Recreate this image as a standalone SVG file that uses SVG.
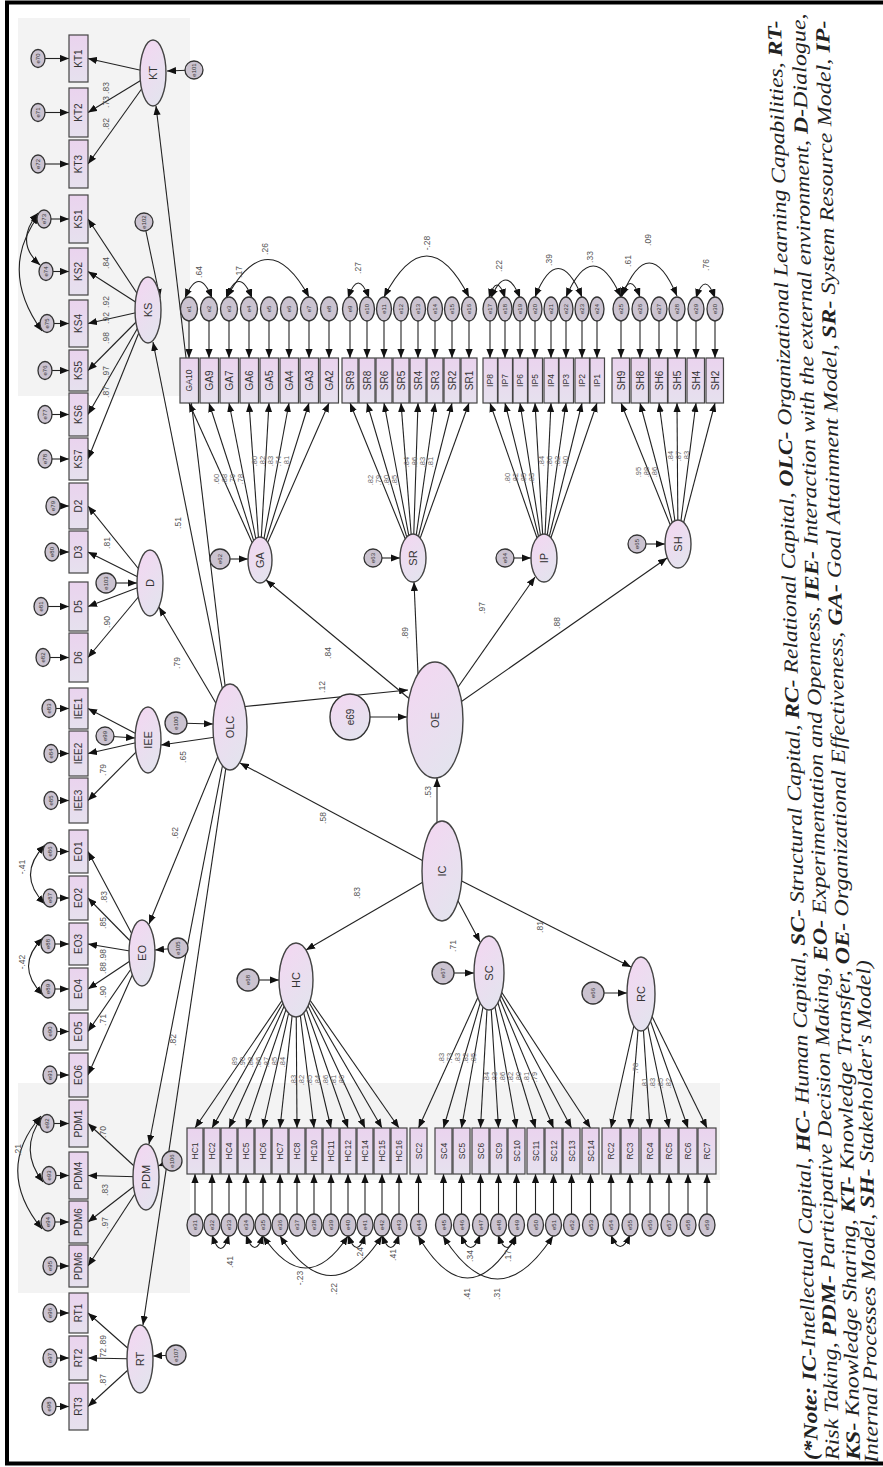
<svg xmlns="http://www.w3.org/2000/svg" width="883" height="1467" viewBox="0 0 883 1467">
<defs>
<linearGradient id="gl" x1="0" y1="0" x2="0.6" y2="1"><stop offset="0" stop-color="#f4d6f2"/><stop offset="1" stop-color="#e4e3ee"/></linearGradient>
<linearGradient id="gb" x1="0" y1="0" x2="0" y2="1"><stop offset="0" stop-color="#ead3ee"/><stop offset="1" stop-color="#e6e1ee"/></linearGradient>
<marker id="ah" viewBox="0 0 10 8" refX="10" refY="4" markerWidth="9" markerHeight="7.2" markerUnits="userSpaceOnUse" orient="auto-start-reverse"><path d="M0,0 L10,4 L0,8 Z" fill="#111"/></marker>
<style>
.c{stroke:#222;stroke-width:1.1;fill:none}
.a{marker-end:url(#ah)}
.d{marker-start:url(#ah);marker-end:url(#ah)}
.bx{fill:url(#gb);stroke:#444;stroke-width:1.2}
.lv{fill:url(#gl);stroke:#444;stroke-width:1.4}
.er{fill:#cbc3d0;stroke:#333;stroke-width:1.3}
text{font-family:'Liberation Sans',Arial,sans-serif}
.t{font-size:10px;fill:#333;text-anchor:middle;dominant-baseline:central}
.s{font-size:8.5px}
.lt{font-size:11px;fill:#333;text-anchor:middle;dominant-baseline:central}
.et{font-size:6px;fill:#333;text-anchor:middle;dominant-baseline:central}
.n{font-size:8.5px;fill:#555;text-anchor:middle;dominant-baseline:central}
.m{font-size:7.5px;fill:#666;text-anchor:middle;dominant-baseline:central}
.note text{font-family:'Liberation Serif','Times New Roman',serif;font-style:italic;font-size:20px;fill:#222}
.b{font-weight:bold}
</style>
</defs>
<rect width="883" height="1467" fill="#fff"/>
<g id="shading" fill="#f3f3f3">
<rect x="18" y="18" width="172" height="378"/>
<rect x="18" y="1083" width="702" height="97"/>
<rect x="18" y="1083" width="172" height="210"/>
</g>
<rect id="frame" x="7" y="2.5" width="900" height="1461" fill="none" stroke="#000" stroke-width="4"/>

<g id="connectors">
<g class="c a">
<line x1="153" y1="73" x2="88" y2="58.5"/><line x1="153" y1="73" x2="88" y2="112.5"/><line x1="153" y1="73" x2="88" y2="164"/>
<line x1="148" y1="310" x2="88" y2="219"/><line x1="148" y1="310" x2="88" y2="271.5"/><line x1="148" y1="310" x2="88" y2="323.5"/><line x1="148" y1="310" x2="88" y2="370.5"/><line x1="148" y1="310" x2="88" y2="414.5"/><line x1="148" y1="310" x2="88" y2="459"/>
<line x1="150" y1="583" x2="88" y2="506"/><line x1="150" y1="583" x2="88" y2="552"/><line x1="150" y1="583" x2="88" y2="606.5"/><line x1="150" y1="583" x2="88" y2="657.5"/>
<line x1="148" y1="740" x2="88" y2="708.5"/><line x1="148" y1="740" x2="88" y2="753.5"/><line x1="148" y1="740" x2="88" y2="800.5"/>
<line x1="142" y1="953" x2="88" y2="851.5"/><line x1="142" y1="953" x2="88" y2="898"/><line x1="142" y1="953" x2="88" y2="944"/><line x1="142" y1="953" x2="88" y2="989"/><line x1="142" y1="953" x2="88" y2="1031.5"/><line x1="142" y1="953" x2="88" y2="1075"/>
<line x1="146" y1="1177" x2="88" y2="1123.5"/><line x1="146" y1="1177" x2="88" y2="1175.5"/><line x1="146" y1="1177" x2="88" y2="1222"/><line x1="146" y1="1177" x2="88" y2="1266"/>
<line x1="140" y1="1359" x2="88" y2="1313"/><line x1="140" y1="1359" x2="88" y2="1358"/><line x1="140" y1="1359" x2="88" y2="1406.5"/>
<line x1="38" y1="58.5" x2="69" y2="58.5"/><line x1="38" y1="112.5" x2="69" y2="112.5"/><line x1="38" y1="164" x2="69" y2="164"/>
<line x1="44" y1="219" x2="69" y2="219"/><line x1="46" y1="271.5" x2="69" y2="271.5"/><line x1="47" y1="323.5" x2="69" y2="323.5"/><line x1="45" y1="370.5" x2="69" y2="370.5"/><line x1="45" y1="414.5" x2="69" y2="414.5"/><line x1="45" y1="459" x2="69" y2="459"/>
<line x1="53" y1="506" x2="69" y2="506"/><line x1="52" y1="552" x2="69" y2="552"/><line x1="41" y1="606.5" x2="69" y2="606.5"/><line x1="43" y1="657.5" x2="69" y2="657.5"/>
<line x1="49" y1="708.5" x2="69" y2="708.5"/><line x1="51" y1="753.5" x2="69" y2="753.5"/><line x1="51" y1="800.5" x2="69" y2="800.5"/>
<line x1="50" y1="851.5" x2="69" y2="851.5"/><line x1="50" y1="898" x2="69" y2="898"/><line x1="48" y1="944" x2="69" y2="944"/><line x1="48" y1="989" x2="69" y2="989"/><line x1="50" y1="1031.5" x2="69" y2="1031.5"/><line x1="50" y1="1075" x2="69" y2="1075"/>
<line x1="47" y1="1123.5" x2="69" y2="1123.5"/><line x1="49" y1="1175.5" x2="69" y2="1175.5"/><line x1="48" y1="1222" x2="69" y2="1222"/><line x1="50" y1="1266" x2="69" y2="1266"/>
<line x1="50" y1="1313" x2="69" y2="1313"/><line x1="50" y1="1358" x2="69" y2="1358"/><line x1="49" y1="1406.5" x2="69" y2="1406.5"/>
<line x1="194" y1="70" x2="167" y2="71"/><line x1="144" y1="222" x2="160" y2="298"/><line x1="106" y1="583" x2="137" y2="583"/><line x1="105" y1="736" x2="135" y2="738"/><line x1="176" y1="723" x2="213" y2="724"/><line x1="178" y1="948" x2="155" y2="950"/><line x1="172" y1="1161" x2="158" y2="1166"/><line x1="176" y1="1355" x2="153" y2="1356"/>
<line x1="220" y1="559" x2="248" y2="559"/><line x1="373" y1="558" x2="400" y2="558"/><line x1="505" y1="558" x2="531" y2="558"/><line x1="637" y1="544" x2="665" y2="544"/><line x1="350" y1="717" x2="407" y2="717"/><line x1="248" y1="980" x2="279" y2="980"/><line x1="443" y1="973" x2="474" y2="973"/><line x1="593" y1="993" x2="627" y2="993"/>
<line x1="437" y1="871" x2="437" y2="778"/><line x1="442" y1="871" x2="240" y2="763"/><line x1="442" y1="871" x2="306" y2="950"/><line x1="442" y1="871" x2="480" y2="942"/><line x1="442" y1="871" x2="631" y2="967"/>
<line x1="230" y1="727" x2="156" y2="106"/><line x1="230" y1="727" x2="153" y2="342"/><line x1="230" y1="727" x2="159" y2="607"/><line x1="230" y1="735" x2="161" y2="745"/><line x1="230" y1="727" x2="149" y2="924"/><line x1="230" y1="727" x2="149" y2="1144"/><line x1="232" y1="727" x2="143" y2="1325"/><line x1="240" y1="707" x2="408" y2="690"/>
<line x1="435" y1="720" x2="266" y2="580"/><line x1="420" y1="720" x2="414" y2="582"/><line x1="435" y1="720" x2="535" y2="577"/><line x1="435" y1="720" x2="667" y2="558"/>
<line x1="260" y1="560" x2="189" y2="403"/><line x1="260" y1="560" x2="209" y2="403"/><line x1="260" y1="560" x2="229" y2="403"/><line x1="260" y1="560" x2="249" y2="403"/><line x1="260" y1="560" x2="269" y2="403"/><line x1="260" y1="560" x2="289" y2="403"/><line x1="260" y1="560" x2="309" y2="403"/><line x1="260" y1="560" x2="329" y2="403"/>
<line x1="413" y1="558" x2="350" y2="403"/><line x1="413" y1="558" x2="367" y2="403"/><line x1="413" y1="558" x2="384" y2="403"/><line x1="413" y1="558" x2="401" y2="403"/><line x1="413" y1="558" x2="418" y2="403"/><line x1="413" y1="558" x2="435" y2="403"/><line x1="413" y1="558" x2="452" y2="403"/><line x1="413" y1="558" x2="469" y2="403"/>
<line x1="544" y1="558" x2="490" y2="403"/><line x1="544" y1="558" x2="505" y2="403"/><line x1="544" y1="558" x2="520" y2="403"/><line x1="544" y1="558" x2="535" y2="403"/><line x1="544" y1="558" x2="551" y2="403"/><line x1="544" y1="558" x2="566" y2="403"/><line x1="544" y1="558" x2="582" y2="403"/><line x1="544" y1="558" x2="597" y2="403"/>
<line x1="678" y1="544" x2="621" y2="403"/><line x1="678" y1="544" x2="640" y2="403"/><line x1="678" y1="544" x2="659" y2="403"/><line x1="678" y1="544" x2="677" y2="403"/><line x1="678" y1="544" x2="696" y2="403"/><line x1="678" y1="544" x2="715" y2="403"/>
<line x1="189" y1="309" x2="189" y2="358"/><line x1="209" y1="309" x2="209" y2="358"/><line x1="229" y1="309" x2="229" y2="358"/><line x1="249" y1="309" x2="249" y2="358"/><line x1="269" y1="309" x2="269" y2="358"/><line x1="289" y1="309" x2="289" y2="358"/><line x1="309" y1="309" x2="309" y2="358"/><line x1="329" y1="309" x2="329" y2="358"/>
<line x1="350" y1="309" x2="350" y2="358"/><line x1="367" y1="309" x2="367" y2="358"/><line x1="384" y1="309" x2="384" y2="358"/><line x1="401" y1="309" x2="401" y2="358"/><line x1="418" y1="309" x2="418" y2="358"/><line x1="435" y1="309" x2="435" y2="358"/><line x1="452" y1="309" x2="452" y2="358"/><line x1="469" y1="309" x2="469" y2="358"/>
<line x1="490" y1="309" x2="490" y2="358"/><line x1="505" y1="309" x2="505" y2="358"/><line x1="520" y1="309" x2="520" y2="358"/><line x1="535" y1="309" x2="535" y2="358"/><line x1="551" y1="309" x2="551" y2="358"/><line x1="566" y1="309" x2="566" y2="358"/><line x1="582" y1="309" x2="582" y2="358"/><line x1="597" y1="309" x2="597" y2="358"/>
<line x1="621" y1="309" x2="621" y2="358"/><line x1="640" y1="309" x2="640" y2="358"/><line x1="659" y1="309" x2="659" y2="358"/><line x1="677" y1="309" x2="677" y2="358"/><line x1="696" y1="309" x2="696" y2="358"/><line x1="715" y1="309" x2="715" y2="358"/>
<line x1="296" y1="980" x2="195" y2="1128"/><line x1="296" y1="980" x2="212" y2="1128"/><line x1="296" y1="980" x2="229" y2="1128"/><line x1="296" y1="980" x2="246" y2="1128"/><line x1="296" y1="980" x2="263" y2="1128"/><line x1="296" y1="980" x2="280" y2="1128"/><line x1="296" y1="980" x2="297" y2="1128"/><line x1="296" y1="980" x2="314" y2="1128"/><line x1="296" y1="980" x2="331" y2="1128"/><line x1="296" y1="980" x2="348" y2="1128"/><line x1="296" y1="980" x2="365" y2="1128"/><line x1="296" y1="980" x2="382" y2="1128"/><line x1="296" y1="980" x2="399" y2="1128"/>
<line x1="489" y1="973" x2="418.5" y2="1128"/><line x1="489" y1="973" x2="443.5" y2="1128"/><line x1="489" y1="973" x2="461.5" y2="1128"/><line x1="489" y1="973" x2="480.5" y2="1128"/><line x1="489" y1="973" x2="498.5" y2="1128"/><line x1="489" y1="973" x2="516.5" y2="1128"/><line x1="489" y1="973" x2="535.5" y2="1128"/><line x1="489" y1="973" x2="553.5" y2="1128"/><line x1="489" y1="973" x2="571.5" y2="1128"/><line x1="489" y1="973" x2="590.5" y2="1128"/>
<line x1="641" y1="994" x2="611" y2="1128"/><line x1="641" y1="994" x2="630" y2="1128"/><line x1="641" y1="994" x2="650" y2="1128"/><line x1="641" y1="994" x2="669" y2="1128"/><line x1="641" y1="994" x2="688" y2="1128"/><line x1="641" y1="994" x2="707" y2="1128"/>
<line x1="195" y1="1225" x2="195" y2="1174"/><line x1="212" y1="1225" x2="212" y2="1174"/><line x1="229" y1="1225" x2="229" y2="1174"/><line x1="246" y1="1225" x2="246" y2="1174"/><line x1="263" y1="1225" x2="263" y2="1174"/><line x1="280" y1="1225" x2="280" y2="1174"/><line x1="297" y1="1225" x2="297" y2="1174"/><line x1="314" y1="1225" x2="314" y2="1174"/><line x1="331" y1="1225" x2="331" y2="1174"/><line x1="348" y1="1225" x2="348" y2="1174"/><line x1="365" y1="1225" x2="365" y2="1174"/><line x1="382" y1="1225" x2="382" y2="1174"/><line x1="399" y1="1225" x2="399" y2="1174"/>
<line x1="418.5" y1="1225" x2="418.5" y2="1174"/><line x1="443.5" y1="1225" x2="443.5" y2="1174"/><line x1="461.5" y1="1225" x2="461.5" y2="1174"/><line x1="480.5" y1="1225" x2="480.5" y2="1174"/><line x1="498.5" y1="1225" x2="498.5" y2="1174"/><line x1="516.5" y1="1225" x2="516.5" y2="1174"/><line x1="535.5" y1="1225" x2="535.5" y2="1174"/><line x1="553.5" y1="1225" x2="553.5" y2="1174"/><line x1="571.5" y1="1225" x2="571.5" y2="1174"/><line x1="590.5" y1="1225" x2="590.5" y2="1174"/>
<line x1="611" y1="1225" x2="611" y2="1174"/><line x1="630" y1="1225" x2="630" y2="1174"/><line x1="650" y1="1225" x2="650" y2="1174"/><line x1="669" y1="1225" x2="669" y2="1174"/><line x1="688" y1="1225" x2="688" y2="1174"/><line x1="707" y1="1225" x2="707" y2="1174"/>
</g>
<g class="c d">
<path d="M38,213 Q14,242 40,265"/><path d="M39,215 Q-2,270 42,331"/>
<path d="M45,845 Q16,875 45,904"/><path d="M43,938 Q14,966 43,995"/>
<path d="M42,1117 Q18,1150 43,1182"/><path d="M41,1116 Q-6,1170 42,1229"/>
<path d="M185,298 Q199,265 212,298"/><path d="M226,298 Q239,265 252,298"/><path d="M227,297 Q268,222 309,297"/>
<path d="M348,298 Q358,268 369,298"/><path d="M384,297 Q427,215 469,297"/>
<path d="M489,298 Q497,272 505,298"/><path d="M491,298 Q506,262 520,298"/>
<path d="M535,297 Q558,240 582,297"/><path d="M566,297 Q593,235 621,297"/>
<path d="M621,297 Q630,270 640,297"/><path d="M622,296 Q649,230 677,296"/><path d="M696,298 Q705,270 715,298"/>
<path d="M212,1235 Q221,1262 229,1235"/><path d="M246,1235 Q255,1260 263,1235"/><path d="M263,1236 Q306,1300 348,1236"/><path d="M280,1236 Q331,1315 382,1236"/><path d="M348,1235 Q357,1260 365,1235"/><path d="M382,1235 Q391,1260 399,1235"/>
<path d="M418,1236 Q468,1320 516,1236"/><path d="M443,1236 Q497,1322 553,1236"/><path d="M461,1235 Q471,1260 480,1235"/><path d="M498,1235 Q507,1260 516,1235"/>
<path d="M611,1235 Q620,1258 630,1235"/>
</g>
</g>

<g id="edge-labels">
<text class="n" transform="translate(428,792) rotate(-90)">.53</text>
<text class="n" transform="translate(323,818) rotate(-90)">.58</text>
<text class="n" transform="translate(357,893) rotate(-90)">.83</text>
<text class="n" transform="translate(453,946) rotate(-90)">.71</text>
<text class="n" transform="translate(540,927) rotate(-90)">.81</text>
<text class="n" transform="translate(178,523) rotate(-90)">.51</text>
<text class="n" transform="translate(177,663) rotate(-90)">.79</text>
<text class="n" transform="translate(183,757) rotate(-90)">.65</text>
<text class="n" transform="translate(175,833) rotate(-90)">.62</text>
<text class="n" transform="translate(173,1040) rotate(-90)">.82</text>
<text class="n" transform="translate(322,687) rotate(-90)">.12</text>
<text class="n" transform="translate(328,653) rotate(-90)">.84</text>
<text class="n" transform="translate(405,633) rotate(-90)">.89</text>
<text class="n" transform="translate(482,608) rotate(-90)">.97</text>
<text class="n" transform="translate(557,623) rotate(-90)">.88</text>
<text class="n" transform="translate(199,272) rotate(-90)">.64</text>
<text class="n" transform="translate(239,272) rotate(-90)">.17</text>
<text class="n" transform="translate(265,249) rotate(-90)">.26</text>
<text class="n" transform="translate(358,268) rotate(-90)">.27</text>
<text class="n" transform="translate(427,243) rotate(-90)">-.28</text>
<text class="n" transform="translate(499,266) rotate(-90)">.22</text>
<text class="n" transform="translate(549,260) rotate(-90)">.39</text>
<text class="n" transform="translate(590,257) rotate(-90)">.33</text>
<text class="n" transform="translate(628,261) rotate(-90)">.61</text>
<text class="n" transform="translate(648,240) rotate(-90)">.09</text>
<text class="n" transform="translate(706,265) rotate(-90)">.76</text>
<text class="n" transform="translate(22,867) rotate(-90)">-.41</text>
<text class="n" transform="translate(22,962) rotate(-90)">-.42</text>
<text class="n" transform="translate(18,1150) rotate(-90)">.21</text>
<text class="n" transform="translate(300,1278) rotate(-90)">-.23</text>
<text class="n" transform="translate(334,1289) rotate(-90)">.22</text>
<text class="n" transform="translate(230,1262) rotate(-90)">.41</text>
<text class="n" transform="translate(360,1253) rotate(-90)">.24</text>
<text class="n" transform="translate(393,1255) rotate(-90)">.41</text>
<text class="n" transform="translate(467,1294) rotate(-90)">.41</text>
<text class="n" transform="translate(497,1294) rotate(-90)">.31</text>
<text class="n" transform="translate(470,1256) rotate(-90)">.34</text>
<text class="n" transform="translate(508,1256) rotate(-90)">.17</text>
<text class="n" transform="translate(106,88) rotate(-90)">.83</text>
<text class="n" transform="translate(106,102) rotate(-90)">.73</text>
<text class="n" transform="translate(106,124) rotate(-90)">.82</text>
<text class="n" transform="translate(106,263) rotate(-90)">.84</text>
<text class="n" transform="translate(106,302) rotate(-90)">.92</text>
<text class="n" transform="translate(106,318) rotate(-90)">.92</text>
<text class="n" transform="translate(106,338) rotate(-90)">.98</text>
<text class="n" transform="translate(106,372) rotate(-90)">.97</text>
<text class="n" transform="translate(106,392) rotate(-90)">.87</text>
<text class="n" transform="translate(107,543) rotate(-90)">.81</text>
<text class="n" transform="translate(107,622) rotate(-90)">.90</text>
<text class="n" transform="translate(103,770) rotate(-90)">.79</text>
<text class="n" transform="translate(104,897) rotate(-90)">.83</text>
<text class="n" transform="translate(103,923) rotate(-90)">.85</text>
<text class="n" transform="translate(103,955) rotate(-90)">.98</text>
<text class="n" transform="translate(103,968) rotate(-90)">.88</text>
<text class="n" transform="translate(103,992) rotate(-90)">.90</text>
<text class="n" transform="translate(103,1020) rotate(-90)">.71</text>
<text class="n" transform="translate(103,1132) rotate(-90)">.70</text>
<text class="n" transform="translate(105,1190) rotate(-90)">.83</text>
<text class="n" transform="translate(105,1223) rotate(-90)">.97</text>
<text class="n" transform="translate(103,1341) rotate(-90)">.89</text>
<text class="n" transform="translate(103,1354) rotate(-90)">.72</text>
<text class="n" transform="translate(103,1380) rotate(-90)">.87</text>
<g class="m">
<text transform="translate(216,479) rotate(-90)">.60</text><text transform="translate(224,479) rotate(-90)">.88</text><text transform="translate(232,479) rotate(-90)">.79</text><text transform="translate(240,479) rotate(-90)">.78</text>
<text transform="translate(254,461) rotate(-90)">.80</text><text transform="translate(262,461) rotate(-90)">.82</text><text transform="translate(270,461) rotate(-90)">.83</text><text transform="translate(278,461) rotate(-90)">.74</text><text transform="translate(286,461) rotate(-90)">.81</text>
<text transform="translate(370,480) rotate(-90)">.82</text><text transform="translate(378,480) rotate(-90)">.79</text><text transform="translate(386,480) rotate(-90)">.80</text><text transform="translate(394,480) rotate(-90)">.85</text>
<text transform="translate(406,462) rotate(-90)">.84</text><text transform="translate(414,462) rotate(-90)">.86</text><text transform="translate(422,462) rotate(-90)">.83</text><text transform="translate(430,462) rotate(-90)">.81</text>
<text transform="translate(507,478) rotate(-90)">.80</text><text transform="translate(515,478) rotate(-90)">.82</text><text transform="translate(523,478) rotate(-90)">.85</text><text transform="translate(531,478) rotate(-90)">.83</text>
<text transform="translate(541,461) rotate(-90)">.84</text><text transform="translate(549,461) rotate(-90)">.86</text><text transform="translate(557,461) rotate(-90)">.82</text><text transform="translate(565,461) rotate(-90)">.80</text>
<text transform="translate(638,472) rotate(-90)">.95</text><text transform="translate(646,472) rotate(-90)">.88</text><text transform="translate(654,472) rotate(-90)">.86</text>
<text transform="translate(670,456) rotate(-90)">.84</text><text transform="translate(678,456) rotate(-90)">.87</text><text transform="translate(686,456) rotate(-90)">.83</text>
<text transform="translate(234,1062) rotate(-90)">.89</text><text transform="translate(242,1062) rotate(-90)">.90</text><text transform="translate(250,1062) rotate(-90)">.88</text><text transform="translate(258,1062) rotate(-90)">.86</text><text transform="translate(266,1062) rotate(-90)">.87</text><text transform="translate(274,1062) rotate(-90)">.85</text><text transform="translate(282,1062) rotate(-90)">.84</text>
<text transform="translate(293,1080) rotate(-90)">.83</text><text transform="translate(301,1080) rotate(-90)">.82</text><text transform="translate(309,1080) rotate(-90)">.85</text><text transform="translate(317,1080) rotate(-90)">.84</text><text transform="translate(325,1080) rotate(-90)">.86</text><text transform="translate(333,1080) rotate(-90)">.81</text><text transform="translate(341,1080) rotate(-90)">.80</text>
<text transform="translate(441,1058) rotate(-90)">.83</text><text transform="translate(449,1058) rotate(-90)">.73</text><text transform="translate(457,1058) rotate(-90)">.83</text><text transform="translate(465,1058) rotate(-90)">.82</text><text transform="translate(473,1058) rotate(-90)">.85</text>
<text transform="translate(486,1077) rotate(-90)">.84</text><text transform="translate(494,1077) rotate(-90)">.83</text><text transform="translate(502,1077) rotate(-90)">.86</text><text transform="translate(510,1077) rotate(-90)">.82</text><text transform="translate(518,1077) rotate(-90)">.80</text><text transform="translate(526,1077) rotate(-90)">.81</text><text transform="translate(534,1077) rotate(-90)">.79</text>
<text transform="translate(635,1068) rotate(-90)">.78</text>
<text transform="translate(644,1083) rotate(-90)">.81</text><text transform="translate(652,1083) rotate(-90)">.83</text><text transform="translate(660,1083) rotate(-90)">.85</text><text transform="translate(668,1083) rotate(-90)">.82</text>
</g>
</g>

<g id="left-indicators">
<g id="KT1"><rect class="bx" x="69" y="35" width="19" height="47"/><text class="t" transform="translate(78.5,58.5) rotate(-90)">KT1</text></g>
<g id="KT2"><rect class="bx" x="69" y="88" width="19" height="49"/><text class="t" transform="translate(78.5,112.5) rotate(-90)">KT2</text></g>
<g id="KT3"><rect class="bx" x="69" y="140" width="19" height="48"/><text class="t" transform="translate(78.5,164) rotate(-90)">KT3</text></g>
<g id="KS1"><rect class="bx" x="69" y="195" width="19" height="48"/><text class="t" transform="translate(78.5,219) rotate(-90)">KS1</text></g>
<g id="KS2"><rect class="bx" x="69" y="248" width="19" height="47"/><text class="t" transform="translate(78.5,271.5) rotate(-90)">KS2</text></g>
<g id="KS4"><rect class="bx" x="69" y="300" width="19" height="47"/><text class="t" transform="translate(78.5,323.5) rotate(-90)">KS4</text></g>
<g id="KS5"><rect class="bx" x="69" y="350" width="19" height="41"/><text class="t" transform="translate(78.5,370.5) rotate(-90)">KS5</text></g>
<g id="KS6"><rect class="bx" x="69" y="393" width="19" height="43"/><text class="t" transform="translate(78.5,414.5) rotate(-90)">KS6</text></g>
<g id="KS7"><rect class="bx" x="69" y="438" width="19" height="42"/><text class="t" transform="translate(78.5,459) rotate(-90)">KS7</text></g>
<g id="D2"><rect class="bx" x="69" y="483" width="19" height="46"/><text class="t" transform="translate(78.5,506) rotate(-90)">D2</text></g>
<g id="D3"><rect class="bx" x="69" y="531" width="19" height="42"/><text class="t" transform="translate(78.5,552) rotate(-90)">D3</text></g>
<g id="D5"><rect class="bx" x="69" y="582" width="19" height="49"/><text class="t" transform="translate(78.5,606.5) rotate(-90)">D5</text></g>
<g id="D6"><rect class="bx" x="69" y="633" width="19" height="49"/><text class="t" transform="translate(78.5,657.5) rotate(-90)">D6</text></g>
<g id="IEE1"><rect class="bx" x="69" y="688" width="19" height="41"/><text class="t" transform="translate(78.5,708.5) rotate(-90)">IEE1</text></g>
<g id="IEE2"><rect class="bx" x="69" y="731" width="19" height="45"/><text class="t" transform="translate(78.5,753.5) rotate(-90)">IEE2</text></g>
<g id="IEE3"><rect class="bx" x="69" y="778" width="19" height="45"/><text class="t" transform="translate(78.5,800.5) rotate(-90)">IEE3</text></g>
<g id="EO1"><rect class="bx" x="69" y="830" width="19" height="43"/><text class="t" transform="translate(78.5,851.5) rotate(-90)">EO1</text></g>
<g id="EO2"><rect class="bx" x="69" y="876" width="19" height="44"/><text class="t" transform="translate(78.5,898) rotate(-90)">EO2</text></g>
<g id="EO3"><rect class="bx" x="69" y="923" width="19" height="42"/><text class="t" transform="translate(78.5,944) rotate(-90)">EO3</text></g>
<g id="EO4"><rect class="bx" x="69" y="968" width="19" height="42"/><text class="t" transform="translate(78.5,989) rotate(-90)">EO4</text></g>
<g id="EO5"><rect class="bx" x="69" y="1013" width="19" height="37"/><text class="t" transform="translate(78.5,1031.5) rotate(-90)">EO5</text></g>
<g id="EO6"><rect class="bx" x="69" y="1053" width="19" height="44"/><text class="t" transform="translate(78.5,1075) rotate(-90)">EO6</text></g>
<g id="PDM1"><rect class="bx" x="69" y="1100" width="19" height="47"/><text class="t" transform="translate(78.5,1123.5) rotate(-90)">PDM1</text></g>
<g id="PDM4"><rect class="bx" x="69" y="1152" width="19" height="47"/><text class="t" transform="translate(78.5,1175.5) rotate(-90)">PDM4</text></g>
<g id="PDM6a"><rect class="bx" x="69" y="1201" width="19" height="42"/><text class="t" transform="translate(78.5,1222) rotate(-90)">PDM6</text></g>
<g id="PDM6b"><rect class="bx" x="69" y="1245" width="19" height="42"/><text class="t" transform="translate(78.5,1266) rotate(-90)">PDM6</text></g>
<g id="RT1"><rect class="bx" x="69" y="1293" width="19" height="40"/><text class="t" transform="translate(78.5,1313) rotate(-90)">RT1</text></g>
<g id="RT2"><rect class="bx" x="69" y="1336" width="19" height="44"/><text class="t" transform="translate(78.5,1358) rotate(-90)">RT2</text></g>
<g id="RT3"><rect class="bx" x="69" y="1383" width="19" height="47"/><text class="t" transform="translate(78.5,1406.5) rotate(-90)">RT3</text></g>
</g>

<g id="left-errors">
<g id="e70"><ellipse class="er" cx="38" cy="58.5" rx="7" ry="9"/><text class="et" transform="translate(38,58.5) rotate(-90)">e70</text></g>
<g id="e71"><ellipse class="er" cx="38" cy="112.5" rx="7" ry="9"/><text class="et" transform="translate(38,112.5) rotate(-90)">e71</text></g>
<g id="e72"><ellipse class="er" cx="38" cy="164" rx="7" ry="9"/><text class="et" transform="translate(38,164) rotate(-90)">e72</text></g>
<g id="e73"><ellipse class="er" cx="44" cy="219" rx="7" ry="9"/><text class="et" transform="translate(44,219) rotate(-90)">e73</text></g>
<g id="e74"><ellipse class="er" cx="46" cy="271.5" rx="7" ry="9"/><text class="et" transform="translate(46,271.5) rotate(-90)">e74</text></g>
<g id="e75"><ellipse class="er" cx="47" cy="323.5" rx="7" ry="9"/><text class="et" transform="translate(47,323.5) rotate(-90)">e75</text></g>
<g id="e76"><ellipse class="er" cx="45" cy="370.5" rx="7" ry="9"/><text class="et" transform="translate(45,370.5) rotate(-90)">e76</text></g>
<g id="e77"><ellipse class="er" cx="45" cy="414.5" rx="7" ry="9"/><text class="et" transform="translate(45,414.5) rotate(-90)">e77</text></g>
<g id="e78"><ellipse class="er" cx="45" cy="459" rx="7" ry="9"/><text class="et" transform="translate(45,459) rotate(-90)">e78</text></g>
<g id="e79"><ellipse class="er" cx="53" cy="506" rx="7" ry="9"/><text class="et" transform="translate(53,506) rotate(-90)">e79</text></g>
<g id="e80"><ellipse class="er" cx="52" cy="552" rx="7" ry="9"/><text class="et" transform="translate(52,552) rotate(-90)">e80</text></g>
<g id="e81"><ellipse class="er" cx="41" cy="606.5" rx="7" ry="9"/><text class="et" transform="translate(41,606.5) rotate(-90)">e81</text></g>
<g id="e82"><ellipse class="er" cx="43" cy="657.5" rx="7" ry="9"/><text class="et" transform="translate(43,657.5) rotate(-90)">e82</text></g>
<g id="e83"><ellipse class="er" cx="49" cy="708.5" rx="7" ry="9"/><text class="et" transform="translate(49,708.5) rotate(-90)">e83</text></g>
<g id="e84"><ellipse class="er" cx="51" cy="753.5" rx="7" ry="9"/><text class="et" transform="translate(51,753.5) rotate(-90)">e84</text></g>
<g id="e85"><ellipse class="er" cx="51" cy="800.5" rx="7" ry="9"/><text class="et" transform="translate(51,800.5) rotate(-90)">e85</text></g>
<g id="e86"><ellipse class="er" cx="50" cy="851.5" rx="7" ry="9"/><text class="et" transform="translate(50,851.5) rotate(-90)">e86</text></g>
<g id="e87"><ellipse class="er" cx="50" cy="898" rx="7" ry="9"/><text class="et" transform="translate(50,898) rotate(-90)">e87</text></g>
<g id="e88"><ellipse class="er" cx="48" cy="944" rx="7" ry="9"/><text class="et" transform="translate(48,944) rotate(-90)">e88</text></g>
<g id="e89"><ellipse class="er" cx="48" cy="989" rx="7" ry="9"/><text class="et" transform="translate(48,989) rotate(-90)">e89</text></g>
<g id="e90"><ellipse class="er" cx="50" cy="1031.5" rx="7" ry="9"/><text class="et" transform="translate(50,1031.5) rotate(-90)">e90</text></g>
<g id="e91"><ellipse class="er" cx="50" cy="1075" rx="7" ry="9"/><text class="et" transform="translate(50,1075) rotate(-90)">e91</text></g>
<g id="e92"><ellipse class="er" cx="47" cy="1123.5" rx="7" ry="9"/><text class="et" transform="translate(47,1123.5) rotate(-90)">e92</text></g>
<g id="e93"><ellipse class="er" cx="49" cy="1175.5" rx="7" ry="9"/><text class="et" transform="translate(49,1175.5) rotate(-90)">e93</text></g>
<g id="e94"><ellipse class="er" cx="48" cy="1222" rx="7" ry="9"/><text class="et" transform="translate(48,1222) rotate(-90)">e94</text></g>
<g id="e95"><ellipse class="er" cx="50" cy="1266" rx="7" ry="9"/><text class="et" transform="translate(50,1266) rotate(-90)">e95</text></g>
<g id="e96"><ellipse class="er" cx="50" cy="1313" rx="7" ry="9"/><text class="et" transform="translate(50,1313) rotate(-90)">e96</text></g>
<g id="e97"><ellipse class="er" cx="50" cy="1358" rx="7" ry="9"/><text class="et" transform="translate(50,1358) rotate(-90)">e97</text></g>
<g id="e98"><ellipse class="er" cx="49" cy="1406.5" rx="7" ry="9"/><text class="et" transform="translate(49,1406.5) rotate(-90)">e98</text></g>
</g>

<g id="top-indicators">
<g id="GA10"><rect class="bx" x="180" y="358" width="18.5" height="45"/><text class="t s" transform="translate(189,380.5) rotate(-90)">GA10</text></g>
<g id="GA9"><rect class="bx" x="200" y="358" width="18.5" height="45"/><text class="t" transform="translate(209,380.5) rotate(-90)">GA9</text></g>
<g id="GA7"><rect class="bx" x="220" y="358" width="18.5" height="45"/><text class="t" transform="translate(229,380.5) rotate(-90)">GA7</text></g>
<g id="GA6"><rect class="bx" x="240" y="358" width="18.5" height="45"/><text class="t" transform="translate(249,380.5) rotate(-90)">GA6</text></g>
<g id="GA5"><rect class="bx" x="260" y="358" width="18.5" height="45"/><text class="t" transform="translate(269,380.5) rotate(-90)">GA5</text></g>
<g id="GA4"><rect class="bx" x="280" y="358" width="18.5" height="45"/><text class="t" transform="translate(289,380.5) rotate(-90)">GA4</text></g>
<g id="GA3"><rect class="bx" x="300" y="358" width="18.5" height="45"/><text class="t" transform="translate(309,380.5) rotate(-90)">GA3</text></g>
<g id="GA2"><rect class="bx" x="320" y="358" width="18.5" height="45"/><text class="t" transform="translate(329,380.5) rotate(-90)">GA2</text></g>
<g id="SR9"><rect class="bx" x="342" y="358" width="16" height="45"/><text class="t" transform="translate(350,380.5) rotate(-90)">SR9</text></g>
<g id="SR8"><rect class="bx" x="359" y="358" width="16" height="45"/><text class="t" transform="translate(367,380.5) rotate(-90)">SR8</text></g>
<g id="SR6"><rect class="bx" x="376" y="358" width="16" height="45"/><text class="t" transform="translate(384,380.5) rotate(-90)">SR6</text></g>
<g id="SR5"><rect class="bx" x="393" y="358" width="16" height="45"/><text class="t" transform="translate(401,380.5) rotate(-90)">SR5</text></g>
<g id="SR4"><rect class="bx" x="410" y="358" width="16" height="45"/><text class="t" transform="translate(418,380.5) rotate(-90)">SR4</text></g>
<g id="SR3"><rect class="bx" x="427" y="358" width="16" height="45"/><text class="t" transform="translate(435,380.5) rotate(-90)">SR3</text></g>
<g id="SR2"><rect class="bx" x="444" y="358" width="16" height="45"/><text class="t" transform="translate(452,380.5) rotate(-90)">SR2</text></g>
<g id="SR1"><rect class="bx" x="461" y="358" width="16" height="45"/><text class="t" transform="translate(469,380.5) rotate(-90)">SR1</text></g>
<g id="IP8"><rect class="bx" x="483" y="358" width="14.5" height="45"/><text class="t s" transform="translate(490,380.5) rotate(-90)">IP8</text></g>
<g id="IP7"><rect class="bx" x="498" y="358" width="14.5" height="45"/><text class="t s" transform="translate(505,380.5) rotate(-90)">IP7</text></g>
<g id="IP6"><rect class="bx" x="513" y="358" width="14.5" height="45"/><text class="t s" transform="translate(520,380.5) rotate(-90)">IP6</text></g>
<g id="IP5"><rect class="bx" x="528" y="358" width="14.5" height="45"/><text class="t s" transform="translate(535,380.5) rotate(-90)">IP5</text></g>
<g id="IP4"><rect class="bx" x="544" y="358" width="14.5" height="45"/><text class="t s" transform="translate(551,380.5) rotate(-90)">IP4</text></g>
<g id="IP3"><rect class="bx" x="559" y="358" width="14.5" height="45"/><text class="t s" transform="translate(566,380.5) rotate(-90)">IP3</text></g>
<g id="IP2"><rect class="bx" x="575" y="358" width="14.5" height="45"/><text class="t s" transform="translate(582,380.5) rotate(-90)">IP2</text></g>
<g id="IP1"><rect class="bx" x="590" y="358" width="14.5" height="45"/><text class="t s" transform="translate(597,380.5) rotate(-90)">IP1</text></g>
<g id="SH9"><rect class="bx" x="612" y="358" width="17.5" height="45"/><text class="t" transform="translate(621,380.5) rotate(-90)">SH9</text></g>
<g id="SH8"><rect class="bx" x="631" y="358" width="17.5" height="45"/><text class="t" transform="translate(640,380.5) rotate(-90)">SH8</text></g>
<g id="SH6"><rect class="bx" x="650" y="358" width="17.5" height="45"/><text class="t" transform="translate(659,380.5) rotate(-90)">SH6</text></g>
<g id="SH5"><rect class="bx" x="668" y="358" width="17.5" height="45"/><text class="t" transform="translate(677,380.5) rotate(-90)">SH5</text></g>
<g id="SH4"><rect class="bx" x="687" y="358" width="17.5" height="45"/><text class="t" transform="translate(696,380.5) rotate(-90)">SH4</text></g>
<g id="SH2"><rect class="bx" x="706" y="358" width="17.5" height="45"/><text class="t" transform="translate(715,380.5) rotate(-90)">SH2</text></g>
</g>

<g id="top-errors">
<g id="e1"><ellipse class="er" cx="189" cy="309" rx="8.5" ry="12"/><text class="et" transform="translate(189,309) rotate(-90)">e1</text></g>
<g id="e2"><ellipse class="er" cx="209" cy="309" rx="8.5" ry="12"/><text class="et" transform="translate(209,309) rotate(-90)">e2</text></g>
<g id="e3"><ellipse class="er" cx="229" cy="309" rx="8.5" ry="12"/><text class="et" transform="translate(229,309) rotate(-90)">e3</text></g>
<g id="e4"><ellipse class="er" cx="249" cy="309" rx="8.5" ry="12"/><text class="et" transform="translate(249,309) rotate(-90)">e4</text></g>
<g id="e5"><ellipse class="er" cx="269" cy="309" rx="8.5" ry="12"/><text class="et" transform="translate(269,309) rotate(-90)">e5</text></g>
<g id="e6"><ellipse class="er" cx="289" cy="309" rx="8.5" ry="12"/><text class="et" transform="translate(289,309) rotate(-90)">e6</text></g>
<g id="e7"><ellipse class="er" cx="309" cy="309" rx="8.5" ry="12"/><text class="et" transform="translate(309,309) rotate(-90)">e7</text></g>
<g id="e8"><ellipse class="er" cx="329" cy="309" rx="8.5" ry="12"/><text class="et" transform="translate(329,309) rotate(-90)">e8</text></g>
<g id="e9"><ellipse class="er" cx="350" cy="309" rx="7.5" ry="12"/><text class="et" transform="translate(350,309) rotate(-90)">e9</text></g>
<g id="e10"><ellipse class="er" cx="367" cy="309" rx="7.5" ry="12"/><text class="et" transform="translate(367,309) rotate(-90)">e10</text></g>
<g id="e11"><ellipse class="er" cx="384" cy="309" rx="7.5" ry="12"/><text class="et" transform="translate(384,309) rotate(-90)">e11</text></g>
<g id="e12"><ellipse class="er" cx="401" cy="309" rx="7.5" ry="12"/><text class="et" transform="translate(401,309) rotate(-90)">e12</text></g>
<g id="e13"><ellipse class="er" cx="418" cy="309" rx="7.5" ry="12"/><text class="et" transform="translate(418,309) rotate(-90)">e13</text></g>
<g id="e14"><ellipse class="er" cx="435" cy="309" rx="7.5" ry="12"/><text class="et" transform="translate(435,309) rotate(-90)">e14</text></g>
<g id="e15"><ellipse class="er" cx="452" cy="309" rx="7.5" ry="12"/><text class="et" transform="translate(452,309) rotate(-90)">e15</text></g>
<g id="e16"><ellipse class="er" cx="469" cy="309" rx="7.5" ry="12"/><text class="et" transform="translate(469,309) rotate(-90)">e16</text></g>
<g id="e17"><ellipse class="er" cx="490" cy="309" rx="7" ry="12"/><text class="et" transform="translate(490,309) rotate(-90)">e17</text></g>
<g id="e18"><ellipse class="er" cx="505" cy="309" rx="7" ry="12"/><text class="et" transform="translate(505,309) rotate(-90)">e18</text></g>
<g id="e19"><ellipse class="er" cx="520" cy="309" rx="7" ry="12"/><text class="et" transform="translate(520,309) rotate(-90)">e19</text></g>
<g id="e20"><ellipse class="er" cx="535" cy="309" rx="7" ry="12"/><text class="et" transform="translate(535,309) rotate(-90)">e20</text></g>
<g id="e21"><ellipse class="er" cx="551" cy="309" rx="7" ry="12"/><text class="et" transform="translate(551,309) rotate(-90)">e21</text></g>
<g id="e22"><ellipse class="er" cx="566" cy="309" rx="7" ry="12"/><text class="et" transform="translate(566,309) rotate(-90)">e22</text></g>
<g id="e23"><ellipse class="er" cx="582" cy="309" rx="7" ry="12"/><text class="et" transform="translate(582,309) rotate(-90)">e23</text></g>
<g id="e24"><ellipse class="er" cx="597" cy="309" rx="7" ry="12"/><text class="et" transform="translate(597,309) rotate(-90)">e24</text></g>
<g id="e25"><ellipse class="er" cx="621" cy="309" rx="8" ry="12"/><text class="et" transform="translate(621,309) rotate(-90)">e25</text></g>
<g id="e26"><ellipse class="er" cx="640" cy="309" rx="8" ry="12"/><text class="et" transform="translate(640,309) rotate(-90)">e26</text></g>
<g id="e27"><ellipse class="er" cx="659" cy="309" rx="8" ry="12"/><text class="et" transform="translate(659,309) rotate(-90)">e27</text></g>
<g id="e28"><ellipse class="er" cx="677" cy="309" rx="8" ry="12"/><text class="et" transform="translate(677,309) rotate(-90)">e28</text></g>
<g id="e29"><ellipse class="er" cx="696" cy="309" rx="8" ry="12"/><text class="et" transform="translate(696,309) rotate(-90)">e29</text></g>
<g id="e30"><ellipse class="er" cx="715" cy="309" rx="8" ry="12"/><text class="et" transform="translate(715,309) rotate(-90)">e30</text></g>
</g>

<g id="bottom-indicators">
<g id="HC1"><rect class="bx" x="187" y="1128" width="16" height="46"/><text class="t s" transform="translate(195,1151) rotate(-90)">HC1</text></g>
<g id="HC2"><rect class="bx" x="204" y="1128" width="16" height="46"/><text class="t s" transform="translate(212,1151) rotate(-90)">HC2</text></g>
<g id="HC4"><rect class="bx" x="221" y="1128" width="16" height="46"/><text class="t s" transform="translate(229,1151) rotate(-90)">HC4</text></g>
<g id="HC5"><rect class="bx" x="238" y="1128" width="16" height="46"/><text class="t s" transform="translate(246,1151) rotate(-90)">HC5</text></g>
<g id="HC6"><rect class="bx" x="255" y="1128" width="16" height="46"/><text class="t s" transform="translate(263,1151) rotate(-90)">HC6</text></g>
<g id="HC7"><rect class="bx" x="272" y="1128" width="16" height="46"/><text class="t s" transform="translate(280,1151) rotate(-90)">HC7</text></g>
<g id="HC8"><rect class="bx" x="289" y="1128" width="16" height="46"/><text class="t s" transform="translate(297,1151) rotate(-90)">HC8</text></g>
<g id="HC10"><rect class="bx" x="306" y="1128" width="16" height="46"/><text class="t s" transform="translate(314,1151) rotate(-90)">HC10</text></g>
<g id="HC11"><rect class="bx" x="323" y="1128" width="16" height="46"/><text class="t s" transform="translate(331,1151) rotate(-90)">HC11</text></g>
<g id="HC12"><rect class="bx" x="340" y="1128" width="16" height="46"/><text class="t s" transform="translate(348,1151) rotate(-90)">HC12</text></g>
<g id="HC14"><rect class="bx" x="357" y="1128" width="16" height="46"/><text class="t s" transform="translate(365,1151) rotate(-90)">HC14</text></g>
<g id="HC15"><rect class="bx" x="374" y="1128" width="16" height="46"/><text class="t s" transform="translate(382,1151) rotate(-90)">HC15</text></g>
<g id="HC16"><rect class="bx" x="391" y="1128" width="16" height="46"/><text class="t s" transform="translate(399,1151) rotate(-90)">HC16</text></g>
<g id="SC2"><rect class="bx" x="410" y="1128" width="17" height="46"/><text class="t s" transform="translate(418.5,1151) rotate(-90)">SC2</text></g>
<g id="SC4"><rect class="bx" x="435" y="1128" width="17" height="46"/><text class="t s" transform="translate(443.5,1151) rotate(-90)">SC4</text></g>
<g id="SC5"><rect class="bx" x="453" y="1128" width="17" height="46"/><text class="t s" transform="translate(461.5,1151) rotate(-90)">SC5</text></g>
<g id="SC6"><rect class="bx" x="472" y="1128" width="17" height="46"/><text class="t s" transform="translate(480.5,1151) rotate(-90)">SC6</text></g>
<g id="SC9"><rect class="bx" x="490" y="1128" width="17" height="46"/><text class="t s" transform="translate(498.5,1151) rotate(-90)">SC9</text></g>
<g id="SC10"><rect class="bx" x="508" y="1128" width="17" height="46"/><text class="t s" transform="translate(516.5,1151) rotate(-90)">SC10</text></g>
<g id="SC11"><rect class="bx" x="527" y="1128" width="17" height="46"/><text class="t s" transform="translate(535.5,1151) rotate(-90)">SC11</text></g>
<g id="SC12"><rect class="bx" x="545" y="1128" width="17" height="46"/><text class="t s" transform="translate(553.5,1151) rotate(-90)">SC12</text></g>
<g id="SC13"><rect class="bx" x="563" y="1128" width="17" height="46"/><text class="t s" transform="translate(571.5,1151) rotate(-90)">SC13</text></g>
<g id="SC14"><rect class="bx" x="582" y="1128" width="17" height="46"/><text class="t s" transform="translate(590.5,1151) rotate(-90)">SC14</text></g>
<g id="RC2"><rect class="bx" x="602" y="1128" width="18" height="46"/><text class="t s" transform="translate(611,1151) rotate(-90)">RC2</text></g>
<g id="RC3"><rect class="bx" x="621" y="1128" width="18" height="46"/><text class="t s" transform="translate(630,1151) rotate(-90)">RC3</text></g>
<g id="RC4"><rect class="bx" x="641" y="1128" width="18" height="46"/><text class="t s" transform="translate(650,1151) rotate(-90)">RC4</text></g>
<g id="RC5"><rect class="bx" x="660" y="1128" width="18" height="46"/><text class="t s" transform="translate(669,1151) rotate(-90)">RC5</text></g>
<g id="RC6"><rect class="bx" x="679" y="1128" width="18" height="46"/><text class="t s" transform="translate(688,1151) rotate(-90)">RC6</text></g>
<g id="RC7"><rect class="bx" x="698" y="1128" width="18" height="46"/><text class="t s" transform="translate(707,1151) rotate(-90)">RC7</text></g>
</g>

<g id="bottom-errors">
<g id="e31"><ellipse class="er" cx="195" cy="1225" rx="8" ry="11"/><text class="et" transform="translate(195,1225) rotate(-90)">e31</text></g>
<g id="e32"><ellipse class="er" cx="212" cy="1225" rx="8" ry="11"/><text class="et" transform="translate(212,1225) rotate(-90)">e32</text></g>
<g id="e33"><ellipse class="er" cx="229" cy="1225" rx="8" ry="11"/><text class="et" transform="translate(229,1225) rotate(-90)">e33</text></g>
<g id="e34"><ellipse class="er" cx="246" cy="1225" rx="8" ry="11"/><text class="et" transform="translate(246,1225) rotate(-90)">e34</text></g>
<g id="e35"><ellipse class="er" cx="263" cy="1225" rx="8" ry="11"/><text class="et" transform="translate(263,1225) rotate(-90)">e35</text></g>
<g id="e36"><ellipse class="er" cx="280" cy="1225" rx="8" ry="11"/><text class="et" transform="translate(280,1225) rotate(-90)">e36</text></g>
<g id="e37"><ellipse class="er" cx="297" cy="1225" rx="8" ry="11"/><text class="et" transform="translate(297,1225) rotate(-90)">e37</text></g>
<g id="e38"><ellipse class="er" cx="314" cy="1225" rx="8" ry="11"/><text class="et" transform="translate(314,1225) rotate(-90)">e38</text></g>
<g id="e39"><ellipse class="er" cx="331" cy="1225" rx="8" ry="11"/><text class="et" transform="translate(331,1225) rotate(-90)">e39</text></g>
<g id="e40"><ellipse class="er" cx="348" cy="1225" rx="8" ry="11"/><text class="et" transform="translate(348,1225) rotate(-90)">e40</text></g>
<g id="e41"><ellipse class="er" cx="365" cy="1225" rx="8" ry="11"/><text class="et" transform="translate(365,1225) rotate(-90)">e41</text></g>
<g id="e42"><ellipse class="er" cx="382" cy="1225" rx="8" ry="11"/><text class="et" transform="translate(382,1225) rotate(-90)">e42</text></g>
<g id="e43"><ellipse class="er" cx="399" cy="1225" rx="8" ry="11"/><text class="et" transform="translate(399,1225) rotate(-90)">e43</text></g>
<g id="e44"><ellipse class="er" cx="418.5" cy="1225" rx="8" ry="11"/><text class="et" transform="translate(418.5,1225) rotate(-90)">e44</text></g>
<g id="e45"><ellipse class="er" cx="443.5" cy="1225" rx="8" ry="11"/><text class="et" transform="translate(443.5,1225) rotate(-90)">e45</text></g>
<g id="e46"><ellipse class="er" cx="461.5" cy="1225" rx="8" ry="11"/><text class="et" transform="translate(461.5,1225) rotate(-90)">e46</text></g>
<g id="e47"><ellipse class="er" cx="480.5" cy="1225" rx="8" ry="11"/><text class="et" transform="translate(480.5,1225) rotate(-90)">e47</text></g>
<g id="e48"><ellipse class="er" cx="498.5" cy="1225" rx="8" ry="11"/><text class="et" transform="translate(498.5,1225) rotate(-90)">e48</text></g>
<g id="e49"><ellipse class="er" cx="516.5" cy="1225" rx="8" ry="11"/><text class="et" transform="translate(516.5,1225) rotate(-90)">e49</text></g>
<g id="e50"><ellipse class="er" cx="535.5" cy="1225" rx="8" ry="11"/><text class="et" transform="translate(535.5,1225) rotate(-90)">e50</text></g>
<g id="e51"><ellipse class="er" cx="553.5" cy="1225" rx="8" ry="11"/><text class="et" transform="translate(553.5,1225) rotate(-90)">e51</text></g>
<g id="e52"><ellipse class="er" cx="571.5" cy="1225" rx="8" ry="11"/><text class="et" transform="translate(571.5,1225) rotate(-90)">e52</text></g>
<g id="e53"><ellipse class="er" cx="590.5" cy="1225" rx="8" ry="11"/><text class="et" transform="translate(590.5,1225) rotate(-90)">e53</text></g>
<g id="e54"><ellipse class="er" cx="611" cy="1225" rx="8" ry="11"/><text class="et" transform="translate(611,1225) rotate(-90)">e54</text></g>
<g id="e55"><ellipse class="er" cx="630" cy="1225" rx="8" ry="11"/><text class="et" transform="translate(630,1225) rotate(-90)">e55</text></g>
<g id="e56"><ellipse class="er" cx="650" cy="1225" rx="8" ry="11"/><text class="et" transform="translate(650,1225) rotate(-90)">e56</text></g>
<g id="e57"><ellipse class="er" cx="669" cy="1225" rx="8" ry="11"/><text class="et" transform="translate(669,1225) rotate(-90)">e57</text></g>
<g id="e58"><ellipse class="er" cx="688" cy="1225" rx="8" ry="11"/><text class="et" transform="translate(688,1225) rotate(-90)">e58</text></g>
<g id="e59"><ellipse class="er" cx="707" cy="1225" rx="8" ry="11"/><text class="et" transform="translate(707,1225) rotate(-90)">e59</text></g>
</g>

<g id="residuals">
<g id="e101"><circle class="er" cx="194" cy="70" r="9"/><text class="et" transform="translate(194,70) rotate(-90)">e101</text></g>
<g id="e102"><circle class="er" cx="144" cy="222" r="9"/><text class="et" transform="translate(144,222) rotate(-90)">e102</text></g>
<g id="e103"><circle class="er" cx="106" cy="583" r="10"/><text class="et" transform="translate(106,583) rotate(-90)">e103</text></g>
<g id="e99"><circle class="er" cx="105" cy="736" r="9"/><text class="et" transform="translate(105,736) rotate(-90)">e99</text></g>
<g id="e100"><circle class="er" cx="176" cy="723" r="11"/><text class="et" transform="translate(176,723) rotate(-90)">e100</text></g>
<g id="e105"><circle class="er" cx="178" cy="948" r="10"/><text class="et" transform="translate(178,948) rotate(-90)">e105</text></g>
<g id="e106"><circle class="er" cx="172" cy="1161" r="10"/><text class="et" transform="translate(172,1161) rotate(-90)">e106</text></g>
<g id="e107"><circle class="er" cx="176" cy="1355" r="10"/><text class="et" transform="translate(176,1355) rotate(-90)">e107</text></g>
<g id="e62"><circle class="er" cx="220" cy="559" r="10"/><text class="et" transform="translate(220,559) rotate(-90)">e62</text></g>
<g id="e63"><circle class="er" cx="373" cy="558" r="9"/><text class="et" transform="translate(373,558) rotate(-90)">e63</text></g>
<g id="e64"><circle class="er" cx="505" cy="558" r="9"/><text class="et" transform="translate(505,558) rotate(-90)">e64</text></g>
<g id="e65"><circle class="er" cx="637" cy="544" r="9"/><text class="et" transform="translate(637,544) rotate(-90)">e65</text></g>
<g id="e69"><ellipse cx="350" cy="717" rx="20" ry="23" fill="url(#gl)" stroke="#333" stroke-width="1.4"/><text class="t" transform="translate(350,717) rotate(-90)">e69</text></g>
<g id="e68"><circle class="er" cx="248" cy="980" r="11"/><text class="et" transform="translate(248,980) rotate(-90)">e68</text></g>
<g id="e67"><circle class="er" cx="443" cy="973" r="11"/><text class="et" transform="translate(443,973) rotate(-90)">e67</text></g>
<g id="e66"><circle class="er" cx="593" cy="993" r="11"/><text class="et" transform="translate(593,993) rotate(-90)">e66</text></g>
</g>

<g id="latents">
<g id="KT"><ellipse class="lv" cx="153" cy="73" rx="13" ry="33"/><text class="lt" transform="translate(153,73) rotate(-90)">KT</text></g>
<g id="KS"><ellipse class="lv" cx="148" cy="310" rx="13" ry="33"/><text class="lt" transform="translate(148,310) rotate(-90)">KS</text></g>
<g id="D"><ellipse class="lv" cx="150" cy="583" rx="13" ry="33"/><text class="lt" transform="translate(150,583) rotate(-90)">D</text></g>
<g id="IEE"><ellipse class="lv" cx="148" cy="740" rx="13" ry="33"/><text class="lt" transform="translate(148,740) rotate(-90)">IEE</text></g>
<g id="OLC"><ellipse class="lv" cx="230" cy="727" rx="17" ry="43"/><text class="lt" transform="translate(230,727) rotate(-90)">OLC</text></g>
<g id="EO"><ellipse class="lv" cx="142" cy="953" rx="13" ry="33"/><text class="lt" transform="translate(142,953) rotate(-90)">EO</text></g>
<g id="PDM"><ellipse class="lv" cx="146" cy="1177" rx="13" ry="33"/><text class="lt" transform="translate(146,1177) rotate(-90)">PDM</text></g>
<g id="RT"><ellipse class="lv" cx="140" cy="1359" rx="13" ry="34"/><text class="lt" transform="translate(140,1359) rotate(-90)">RT</text></g>
<g id="GA"><ellipse class="lv" cx="260" cy="560" rx="12" ry="23"/><text class="lt" transform="translate(260,560) rotate(-90)">GA</text></g>
<g id="SR"><ellipse class="lv" cx="413" cy="558" rx="13" ry="24"/><text class="lt" transform="translate(413,558) rotate(-90)">SR</text></g>
<g id="IP"><ellipse class="lv" cx="544" cy="558" rx="13" ry="24"/><text class="lt" transform="translate(544,558) rotate(-90)">IP</text></g>
<g id="SH"><ellipse class="lv" cx="678" cy="544" rx="13" ry="24"/><text class="lt" transform="translate(678,544) rotate(-90)">SH</text></g>
<g id="OE"><ellipse class="lv" cx="435" cy="720" rx="28" ry="58"/><text class="lt" transform="translate(435,720) rotate(-90)">OE</text></g>
<g id="IC"><ellipse class="lv" cx="442" cy="871" rx="20" ry="50"/><text class="lt" transform="translate(442,871) rotate(-90)">IC</text></g>
<g id="HC"><ellipse class="lv" cx="296" cy="980" rx="17" ry="37"/><text class="lt" transform="translate(296,980) rotate(-90)">HC</text></g>
<g id="SC"><ellipse class="lv" cx="489" cy="973" rx="15" ry="37"/><text class="lt" transform="translate(489,973) rotate(-90)">SC</text></g>
<g id="RC"><ellipse class="lv" cx="641" cy="994" rx="14" ry="37"/><text class="lt" transform="translate(641,994) rotate(-90)">RC</text></g>
</g>

<g id="note" class="note">
<text transform="translate(818,1460) rotate(-91.47)" textLength="1440" lengthAdjust="spacingAndGlyphs"><tspan class="b">(*Note: IC-</tspan>Intellectual Capital, <tspan class="b">HC-</tspan> Human Capital, <tspan class="b">SC-</tspan> Structural Capital, <tspan class="b">RC-</tspan> Relational Capital, <tspan class="b">OLC-</tspan> Organizational Learning Capabilities, <tspan class="b">RT-</tspan></text>
<text transform="translate(839,1460) rotate(-91.35)" textLength="1447" lengthAdjust="spacingAndGlyphs">Risk Taking, <tspan class="b">PDM-</tspan> Participative Decision Making, <tspan class="b">EO-</tspan> Experimentation and Openness, <tspan class="b">IEE-</tspan> Interaction with the external environment, <tspan class="b">D-</tspan>Dialogue,</text>
<text transform="translate(860,1460) rotate(-91.23)" textLength="1440" lengthAdjust="spacingAndGlyphs"><tspan class="b">KS-</tspan> Knowledge Sharing, <tspan class="b">KT-</tspan> Knowledge Transfer, <tspan class="b">OE-</tspan> Organizational Effectiveness, <tspan class="b">GA-</tspan> Goal Attainment Model, <tspan class="b">SR-</tspan> System Resource Model, <tspan class="b">IP-</tspan></text>
<text transform="translate(878,1463) rotate(-90.91)" textLength="503" lengthAdjust="spacingAndGlyphs">Internal Processes Model, <tspan class="b">SH-</tspan> Stakeholder's Model)</text>
</g>
</svg>
